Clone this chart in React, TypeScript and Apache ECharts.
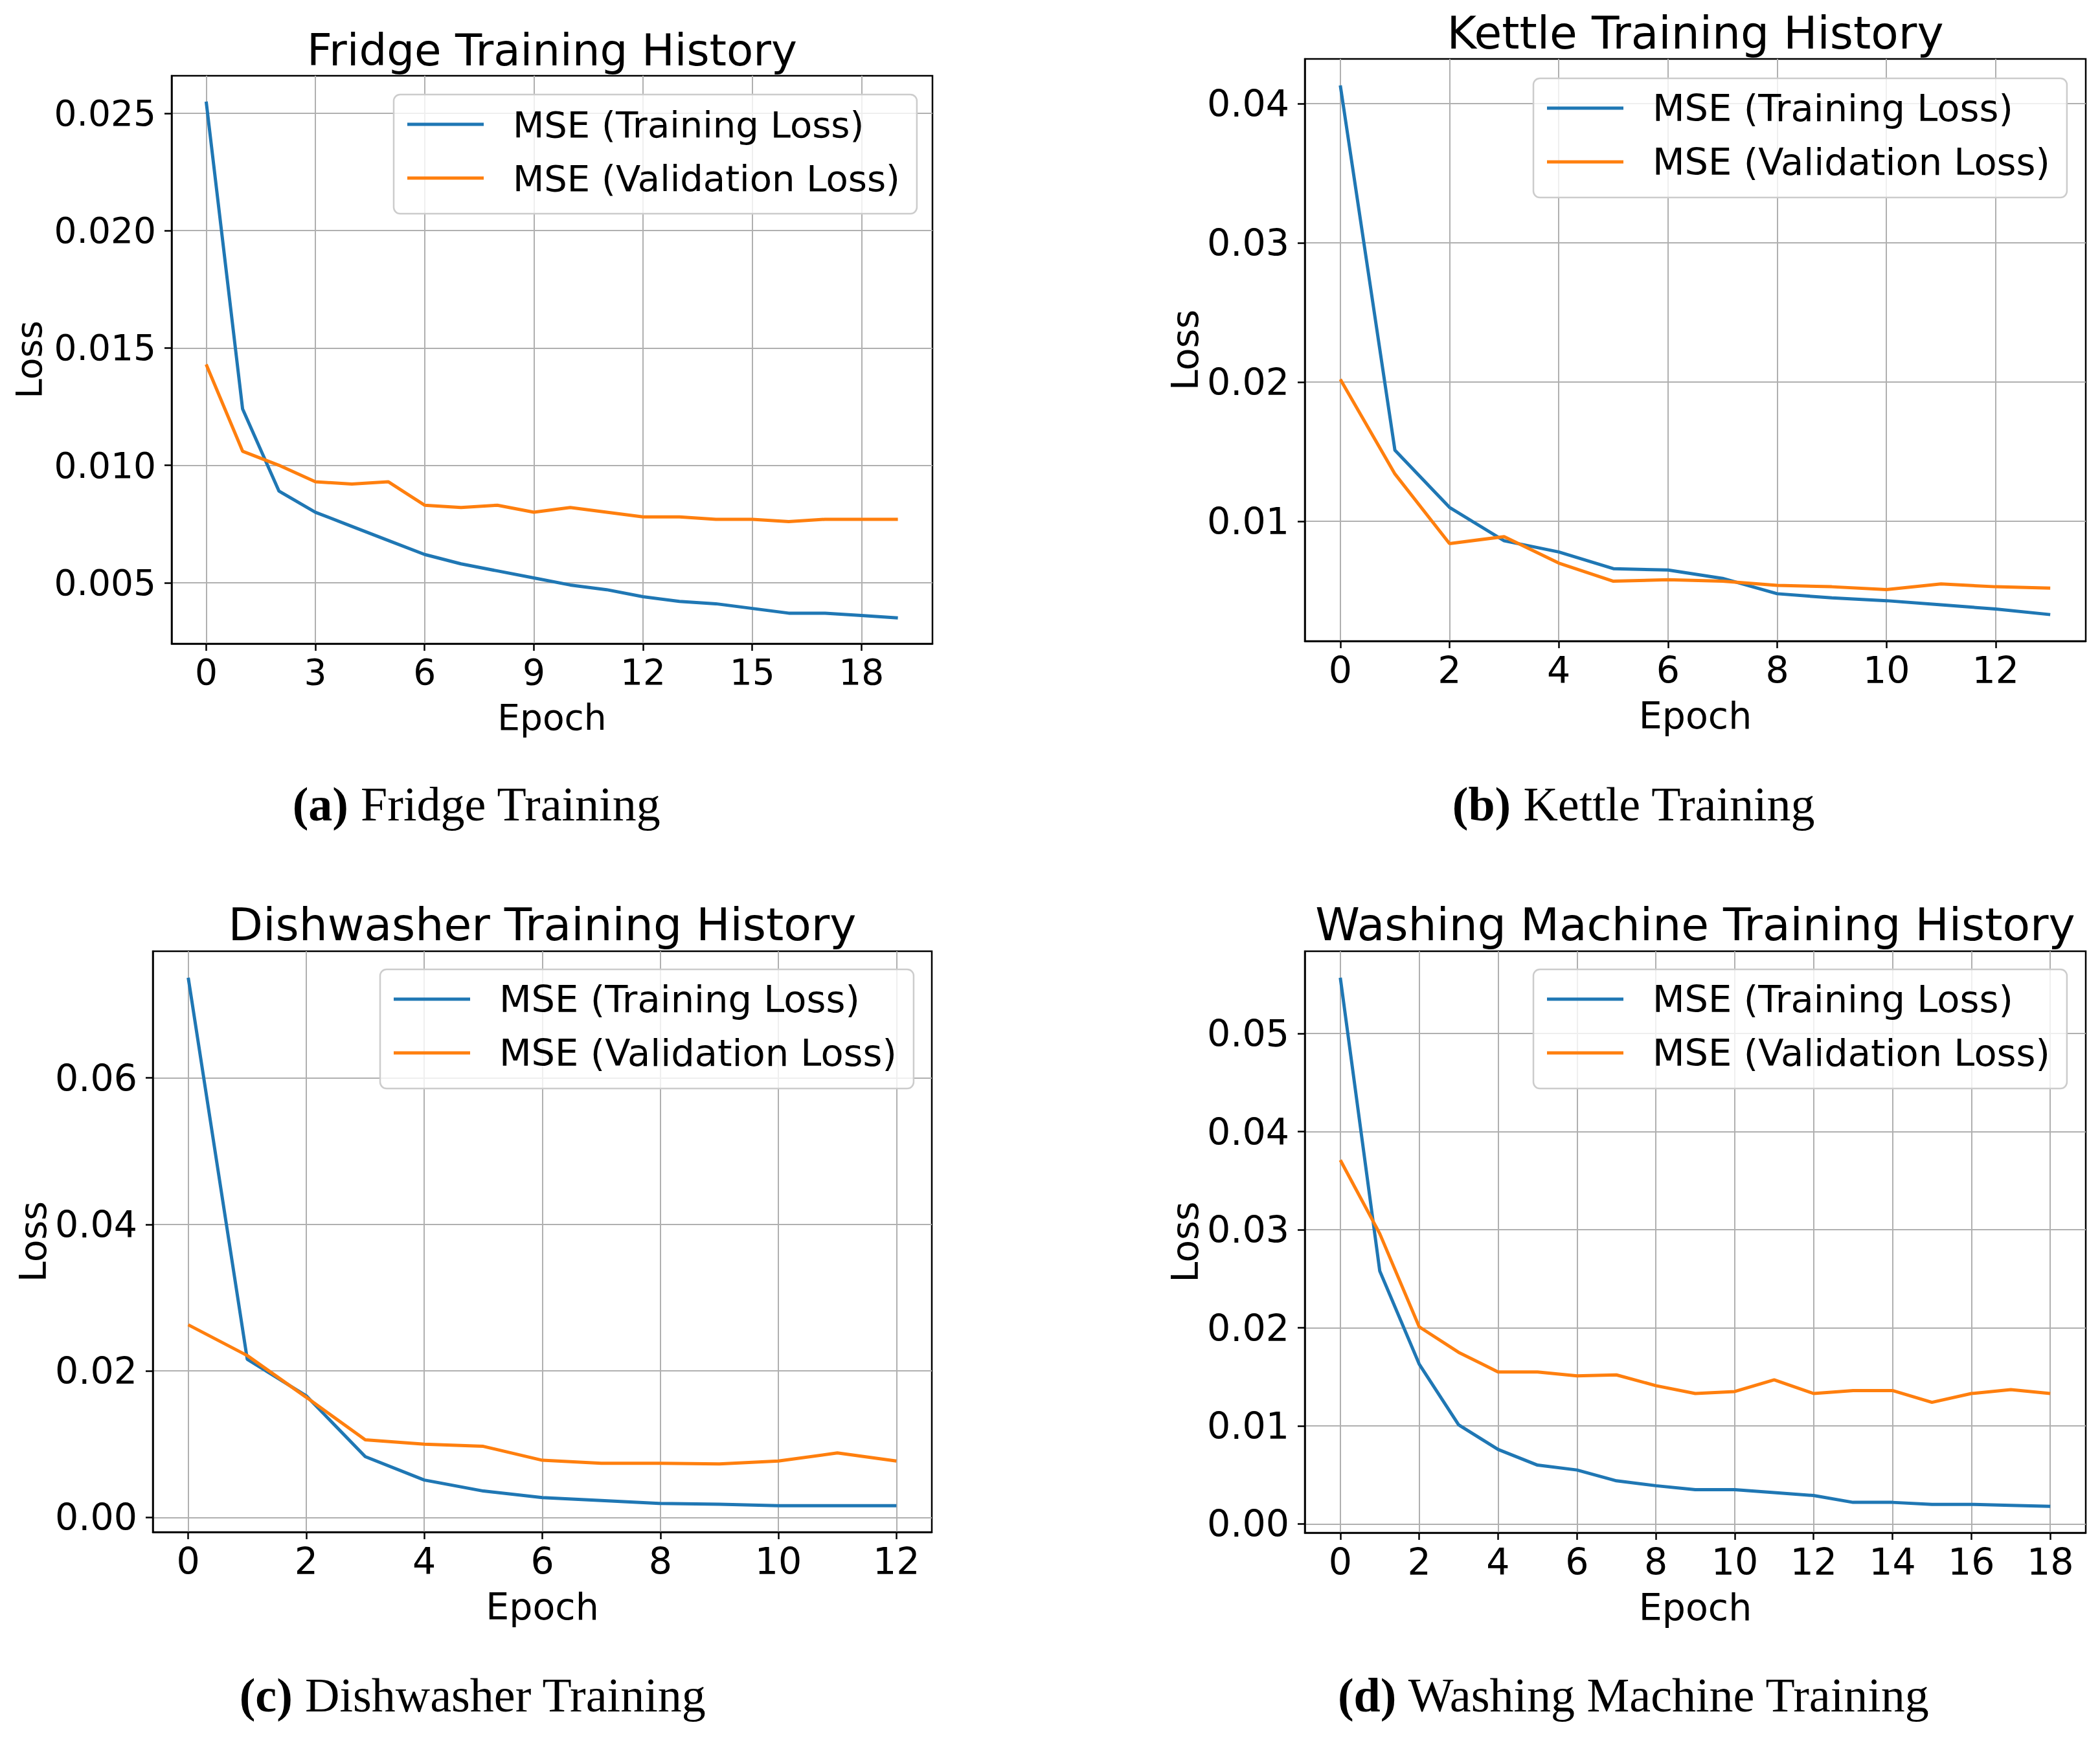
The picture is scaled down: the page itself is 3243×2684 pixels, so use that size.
import { useEffect, useRef } from 'react';
import * as echarts from 'echarts';

const BLUE = '#1f77b4';
const ORANGE = '#ff7f0e';
const SANS = 'DejaVu Sans';
const SERIF = 'Liberation Serif';

const TRAIN = 'MSE (Training Loss)';
const VALID = 'MSE (Validation Loss)';

// fridge
const fridgeEpochs = [0, 1, 2, 3, 4, 5, 6, 7, 8, 9, 10, 11, 12, 13, 14, 15, 16, 17, 18, 19];
const fridgeTrain = [0.0255, 0.0124, 0.0089, 0.008, 0.0074, 0.0068, 0.0062, 0.0058, 0.0055, 0.0052, 0.0049, 0.0047, 0.0044, 0.0042, 0.0041, 0.0039, 0.0037, 0.0037, 0.0036, 0.0035];
const fridgeVal = [0.0143, 0.0106, 0.01, 0.0093, 0.0092, 0.0093, 0.0083, 0.0082, 0.0083, 0.008, 0.0082, 0.008, 0.0078, 0.0078, 0.0077, 0.0077, 0.0076, 0.0077, 0.0077, 0.0077];
const fridgeXTicks = [0, 3, 6, 9, 12, 15, 18];
const fridgeYTicks = [0.005, 0.01, 0.015, 0.02, 0.025];

// kettle
const kettleEpochs = [0, 1, 2, 3, 4, 5, 6, 7, 8, 9, 10, 11, 12, 13];
const kettleTrain = [0.0413, 0.0151, 0.011, 0.0086, 0.0078, 0.0066, 0.0065, 0.0059, 0.0048, 0.0045, 0.0043, 0.004, 0.0037, 0.0033];
const kettleVal = [0.0202, 0.0134, 0.0084, 0.0089, 0.007, 0.0057, 0.0058, 0.0057, 0.0054, 0.0053, 0.0051, 0.0055, 0.0053, 0.0052];
const kettleXTicks = [0, 2, 4, 6, 8, 10, 12];
const kettleYTicks = [0.01, 0.02, 0.03, 0.04];

// dishwasher
const dishEpochs = [0, 1, 2, 3, 4, 5, 6, 7, 8, 9, 10, 11, 12];
const dishTrain = [0.0737, 0.0216, 0.0166, 0.0083, 0.0051, 0.0036, 0.0027, 0.0023, 0.0019, 0.0018, 0.0016, 0.0016, 0.0016];
const dishVal = [0.0263, 0.0221, 0.0164, 0.0106, 0.01, 0.0097, 0.0078, 0.0074, 0.0074, 0.0073, 0.0077, 0.0088, 0.0077];
const dishXTicks = [0, 2, 4, 6, 8, 10, 12];
const dishYTicks = [0, 0.02, 0.04, 0.06];

// washing machine
const washEpochs = [0, 1, 2, 3, 4, 5, 6, 7, 8, 9, 10, 11, 12, 13, 14, 15, 16, 17, 18];
const washTrain = [0.0557, 0.0258, 0.0163, 0.0101, 0.0076, 0.006, 0.0055, 0.0044, 0.0039, 0.0035, 0.0035, 0.0032, 0.0029, 0.0022, 0.0022, 0.002, 0.002, 0.0019, 0.0018];
const washVal = [0.0371, 0.0296, 0.0201, 0.0175, 0.0155, 0.0155, 0.0151, 0.0152, 0.0141, 0.0133, 0.0135, 0.0147, 0.0133, 0.0136, 0.0136, 0.0124, 0.0133, 0.0137, 0.0133];
const washXTicks = [0, 2, 4, 6, 8, 10, 12, 14, 16, 18];
const washYTicks = [0, 0.01, 0.02, 0.03, 0.04, 0.05];

type Panel = {
  title: string;
  caption: string;
  tag: string;
  epochs: number[];
  train: number[];
  val: number[];
  xTicks: number[];
  yTicks: number[];
  xStep: number;
  yStep: number;
  digits: number;
  grid: { left: number; top: number; width: number; height: number };
  font: number;
  legendFont: number;
  titleFont: number;
  titleY: number;
  legend: { left: number; top: number };
  lossGap: number;
  capX: number;
  capY: number;
};

const panels: Panel[] = [
  {
    title: 'Fridge Training History', caption: 'Fridge Training', tag: '(a)',
    epochs: fridgeEpochs, train: fridgeTrain, val: fridgeVal, xTicks: fridgeXTicks, yTicks: fridgeYTicks,
    xStep: 3, yStep: 0.005, digits: 3,
    grid: { left: 265, top: 117, width: 1175, height: 877 },
    font: 55, legendFont: 56, titleFont: 67.5, titleY: 77, legend: { left: 608, top: 146 }, lossGap: 193,
    capX: 736, capY: 1242,
  },
  {
    title: 'Kettle Training History', caption: 'Kettle Training', tag: '(b)',
    epochs: kettleEpochs, train: kettleTrain, val: kettleVal, xTicks: kettleXTicks, yTicks: kettleYTicks,
    xStep: 2, yStep: 0.01, digits: 2,
    grid: { left: 2015, top: 91, width: 1206, height: 899 },
    font: 57, legendFont: 57.5, titleFont: 69.5, titleY: 50, legend: { left: 2368, top: 121 }, lossGap: 157,
    capX: 2523, capY: 1242,
  },
  {
    title: 'Dishwasher Training History', caption: 'Dishwasher Training', tag: '(c)',
    epochs: dishEpochs, train: dishTrain, val: dishVal, xTicks: dishXTicks, yTicks: dishYTicks,
    xStep: 2, yStep: 0.02, digits: 2,
    grid: { left: 236, top: 1469, width: 1203, height: 897 },
    font: 57, legendFont: 57.5, titleFont: 69.5, titleY: 1427, legend: { left: 587, top: 1497 }, lossGap: 157,
    capX: 730, capY: 2618,
  },
  {
    title: 'Washing Machine Training History', caption: 'Washing Machine Training', tag: '(d)',
    epochs: washEpochs, train: washTrain, val: washVal, xTicks: washXTicks, yTicks: washYTicks,
    xStep: 2, yStep: 0.01, digits: 2,
    grid: { left: 2015, top: 1469, width: 1206, height: 898 },
    font: 57, legendFont: 57.5, titleFont: 69.5, titleY: 1427, legend: { left: 2368, top: 1497 }, lossGap: 157,
    capX: 2523, capY: 2618,
  },
];

// matplotlib style 5% autoscale margins
const padMin = (e: { min: number; max: number }) => e.min - 0.05 * (e.max - e.min);
const padMax = (e: { min: number; max: number }) => e.max + 0.05 * (e.max - e.min);

const axisLine = { show: true, onZero: false, lineStyle: { color: '#000', width: 2.5 } };
const splitLine = { show: true, lineStyle: { color: '#b0b0b0', width: 2 } };

function buildOption() {
  const grid: any[] = [];
  const xAxis: any[] = [];
  const yAxis: any[] = [];
  const series: any[] = [];
  const legend: any[] = [];
  const graphic: any[] = [];

  panels.forEach((p, i) => {
    grid.push({
      ...p.grid,
      show: true,
      borderColor: '#000',
      borderWidth: 2.5,
      backgroundColor: 'transparent',
      containLabel: false,
      outerBoundsMode: 'none',
    });

    xAxis.push({
      type: 'value',
      gridIndex: i,
      min: padMin,
      max: padMax,
      minInterval: p.xStep,
      maxInterval: p.xStep,
      name: 'Epoch',
      nameLocation: 'middle',
      nameGap: 86,
      nameTextStyle: { fontSize: p.font, color: '#000', fontFamily: SANS },
      axisLine,
      axisTick: { show: true, length: 11, lineStyle: { color: '#000', width: 2.5 }, customValues: p.xTicks },
      axisLabel: { fontSize: p.font, color: '#000', fontFamily: SANS, margin: 16, customValues: p.xTicks, formatter: (v: number) => String(v) },
      splitLine,
    });

    yAxis.push({
      type: 'value',
      gridIndex: i,
      min: padMin,
      max: padMax,
      minInterval: p.yStep,
      maxInterval: p.yStep,
      name: 'Loss',
      nameLocation: 'middle',
      nameGap: p.lossGap,
      nameTextStyle: { fontSize: p.font, color: '#000', fontFamily: SANS },
      axisLine,
      axisTick: { show: true, length: 11, lineStyle: { color: '#000', width: 2.5 }, customValues: p.yTicks },
      axisLabel: { fontSize: p.font, color: '#000', fontFamily: SANS, margin: 24, customValues: p.yTicks, formatter: (v: number) => v.toFixed(p.digits) },
      splitLine,
    });

    series.push(
      {
        type: 'line', name: TRAIN, xAxisIndex: i, yAxisIndex: i,
        data: p.epochs.map((e, k) => [e, p.train[k]]),
        symbol: 'none', silent: true,
        lineStyle: { color: BLUE, width: 5 }, itemStyle: { color: BLUE },
        emphasis: { disabled: true },
      },
      {
        type: 'line', name: VALID, xAxisIndex: i, yAxisIndex: i,
        data: p.epochs.map((e, k) => [e, p.val[k]]),
        symbol: 'none', silent: true,
        lineStyle: { color: ORANGE, width: 5 }, itemStyle: { color: ORANGE },
        emphasis: { disabled: true },
      },
    );

    legend.push({
      data: [TRAIN, VALID],
      orient: 'vertical',
      left: p.legend.left,
      top: p.legend.top,
      icon: 'rect',
      itemWidth: 118,
      itemHeight: 5,
      itemGap: 19,
      padding: [14, 26, 23, 21],
      backgroundColor: 'rgba(255,255,255,0.8)',
      borderColor: '#cccccc',
      borderWidth: 2.5,
      borderRadius: 10,
      selectedMode: false,
      textStyle: { fontSize: p.legendFont, color: '#000', fontFamily: SANS, lineHeight: 64, padding: [0, 0, 0, 40] },
    });

    graphic.push(
      {
        type: 'text',
        x: p.grid.left + p.grid.width / 2,
        y: p.titleY,
        silent: true,
        style: {
          text: p.title,
          fill: '#000',
          fontSize: p.titleFont,
          fontFamily: SANS,
          textAlign: 'center',
          textVerticalAlign: 'middle',
        },
      },
      {
        type: 'text',
        x: p.capX,
        y: p.capY,
        silent: true,
        style: {
          text: `{b|${p.tag}} ${p.caption}`,
          fill: '#000',
          fontSize: 74,
          fontFamily: SERIF,
          textAlign: 'center',
          textVerticalAlign: 'middle',
          rich: { b: { fontSize: 74, fontFamily: SERIF, fontWeight: 'bold', fill: '#000' } },
        },
      },
    );
  });

  return {
    animation: false,
    backgroundColor: '#fff',
    textStyle: { fontFamily: SANS },
    grid,
    xAxis,
    yAxis,
    series,
    legend,
    graphic,
  };
}

export default function App() {
  const ref = useRef<HTMLDivElement>(null);

  useEffect(() => {
    if (!ref.current) return;
    const chart = echarts.init(ref.current, null, { renderer: 'svg' });
    chart.setOption(buildOption() as any);
    return () => chart.dispose();
  }, []);

  return (
    <div
      ref={ref}
      style={{ position: 'fixed', left: 0, top: 0, width: 3243, height: 2684, background: '#fff' }}
    />
  );
}
